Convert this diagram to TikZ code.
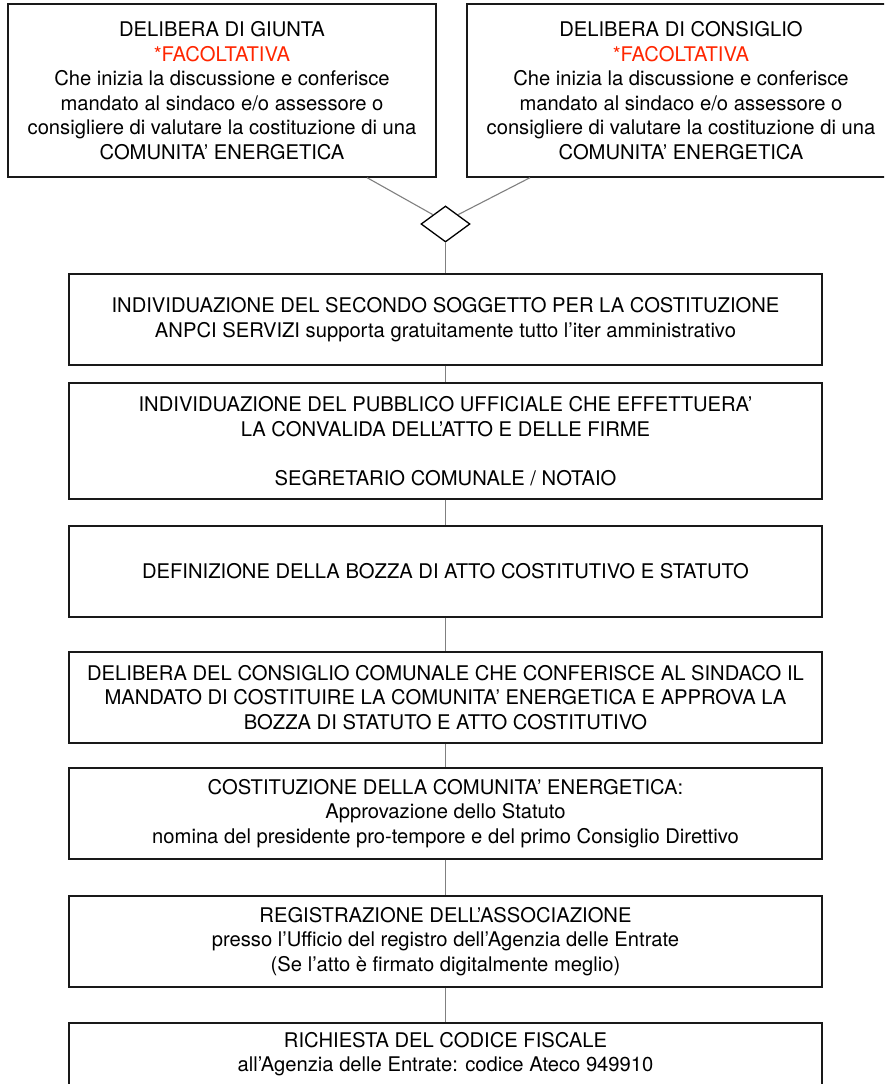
\documentclass[tikz,border=0pt]{standalone}
\usepackage{fontspec}
\setmainfont{TeX Gyre Heros}
\usetikzlibrary{shapes.geometric,positioning}
\definecolor{facred}{RGB}{255,38,0}
\definecolor{linkgray}{RGB}{128,128,128}
\tikzset{
  boxtext/.style={font=\fontsize{20.2}{24.5}\selectfont},
  stepbox/.style={draw=black!90, line width=1.3pt, fill=white, minimum width=753pt, inner sep=0pt, align=center, boxtext},
  topbox/.style={draw=black!90, line width=1.3pt, fill=white, minimum width=428pt, minimum height=173pt, inner sep=0pt, align=center, boxtext},
  link/.style={draw=linkgray, line width=1.1pt}
}

\begin{document}
\begin{tikzpicture}[x=1pt, y=-1pt]
                \clip (0,0) rectangle (884,1084);
                \fill[white] (0,0) rectangle (884,1084);

                % Top boxes
                \node[topbox] (giunta) at (222,90.5) {DELIBERA DI GIUNTA\\ \textcolor{facred}{*FACOLTATIVA}\\ Che inizia la discussione e conferisce\\ mandato al sindaco e/o assessore o\\ consigliere di valutare la costituzione di una\\ COMUNITA' ENERGETICA};
                \node[topbox] (consiglio) at (681,90.5) {DELIBERA DI CONSIGLIO\\ \textcolor{facred}{*FACOLTATIVA}\\ Che inizia la discussione e conferisce\\ mandato al sindaco e/o assessore o\\ consigliere di valutare la costituzione di una\\ COMUNITA' ENERGETICA};

                % Merge
                \node[diamond, draw, line width=1.3pt, fill=white, inner sep=0pt, minimum width=49pt, minimum height=36pt] (merge) at (445.5,224) {};

                % Steps
                \node[stepbox, minimum height=91pt] (soggetto) at (445.5,319.5) {INDIVIDUAZIONE DEL SECONDO SOGGETTO PER LA COSTITUZIONE\\ ANPCI SERVIZI supporta gratuitamente tutto l'iter amministrativo};
                \node[stepbox, minimum height=116pt] (ufficiale) at (445.5,441) {INDIVIDUAZIONE DEL PUBBLICO UFFICIALE CHE EFFETTUERA'\\ LA CONVALIDA DELL'ATTO E DELLE FIRME\\[24.5pt] SEGRETARIO COMUNALE / NOTAIO};
                \node[stepbox, minimum height=91pt] (bozza) at (445.5,571.5) {DEFINIZIONE DELLA BOZZA DI ATTO COSTITUTIVO E STATUTO};
                \node[stepbox, minimum height=91pt] (delibera) at (445.5,697.5) {DELIBERA DEL CONSIGLIO COMUNALE CHE CONFERISCE AL SINDACO IL\\ MANDATO DI COSTITUIRE LA COMUNITA' ENERGETICA E APPROVA LA\\ BOZZA DI STATUTO E ATTO COSTITUTIVO};
                \node[stepbox, minimum height=91pt] (costituzione) at (445.5,813.5) {COSTITUZIONE DELLA COMUNITA' ENERGETICA:\\ Approvazione dello Statuto\\ nomina del presidente pro-tempore e del primo Consiglio Direttivo};
                \node[stepbox, minimum height=91pt] (registrazione) at (445.5,941.5) {REGISTRAZIONE DELL'ASSOCIAZIONE\\ presso l'Ufficio del registro dell'Agenzia delle Entrate\\ (Se l'atto è firmato digitalmente meglio)};
                \node[stepbox, minimum height=62pt] (codice) at (445.5,1054) {RICHIESTA DEL CODICE FISCALE\\ all'Agenzia delle Entrate: codice Ateco 949910};

                % Links
                \draw[link] (giunta.-31) -- (merge.north west);
                \draw[link] (consiglio.-150.5) -- (merge.north east);
                \draw[link] (merge.south) -- (soggetto.north);
                \draw[link] (soggetto.south) -- (ufficiale.north);
                \draw[link] (ufficiale.south) -- (bozza.north);
                \draw[link] (bozza.south) -- (delibera.north);
                \draw[link] (delibera.south) -- (costituzione.north);
                \draw[link] (costituzione.south) -- (registrazione.north);
                \draw[link] (registrazione.south) -- (codice.north);
            \end{tikzpicture}
\end{document}
